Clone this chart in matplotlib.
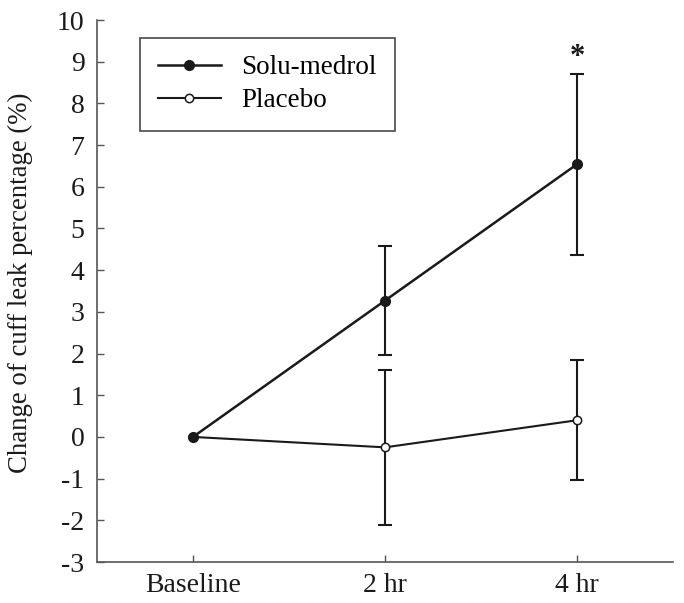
import matplotlib
matplotlib.use("Agg")
import matplotlib.pyplot as plt
import numpy as np

categories = ["Baseline", "2 hr", "4 hr"]
solu_mean = [0.0, 3.27, 6.54]
solu_err = [0.0, 1.30, 2.17]
placebo_mean = [0.0, -0.25, 0.40]
placebo_err = [0.0, 1.86, 1.44]
yticks = list(range(-3, 11))

plt.rcParams['font.family'] = ['Liberation Serif', 'DejaVu Serif']
ink = '#1a1a1a'
axcol = '#555555'

fig = plt.figure(figsize=(6.84, 6.03), dpi=100)
ax = fig.add_axes([97/684, 41/603, 576/684, 542/603])

x = np.arange(len(categories))
# error bars only where they are non-zero
def bars(err):
    return np.array([e if e > 0 else np.nan for e in err])

pl, = ax.plot(x, placebo_mean, color=ink, lw=1.5, marker='o', ms=6,
              mfc='white', mec=ink, mew=1.1, label='Placebo', zorder=3)
ax.errorbar(x, placebo_mean, yerr=bars(placebo_err), fmt='none', ecolor=ink,
            capsize=5, elinewidth=1.5, capthick=1.5, zorder=2)
sl, = ax.plot(x, solu_mean, color=ink, lw=1.8, marker='o', ms=7,
              mfc=ink, mec=ink, label='Solu-medrol', zorder=4)
ax.errorbar(x, solu_mean, yerr=bars(solu_err), fmt='none', ecolor=ink,
            capsize=5, elinewidth=1.5, capthick=1.5, zorder=2)

ax.text(2, solu_mean[2] + solu_err[2] + 0.05, '*', ha='center', va='bottom',
        fontsize=22, fontweight='bold', color=ink)

ax.set_xlim(-0.5, 2.5)
ax.set_ylim(-3, 10)
ax.set_yticks(yticks)
ax.set_yticklabels([str(t) for t in yticks])
ax.set_xticks(x)
ax.set_xticklabels(categories)
ax.tick_params(direction='in', length=5, width=1, colors=axcol, labelcolor=ink,
               labelsize=20)
ax.tick_params(axis='x', pad=8)
ax.tick_params(axis='y', pad=9)
for s in ['top', 'right']:
    ax.spines[s].set_visible(False)
for s in ['left', 'bottom']:
    ax.spines[s].set_color(axcol)
    ax.spines[s].set_linewidth(1.2)

ax.set_ylabel('Change of cuff leak percentage (%)', fontsize=19.3, color=ink)
ax.yaxis.set_label_coords(-0.111, 0.516)

leg = ax.legend([sl, pl], ['Solu-medrol', 'Placebo'], loc='upper left',
                bbox_to_anchor=(0.0747, 0.967),
                fontsize=19.5, frameon=True, fancybox=False, edgecolor=ink,
                handlelength=2.35, handletextpad=0.75, borderpad=0.65,
                labelspacing=0.28, borderaxespad=0)
leg.get_frame().set_linewidth(1.2)

fig.savefig('out.png', dpi=100)
